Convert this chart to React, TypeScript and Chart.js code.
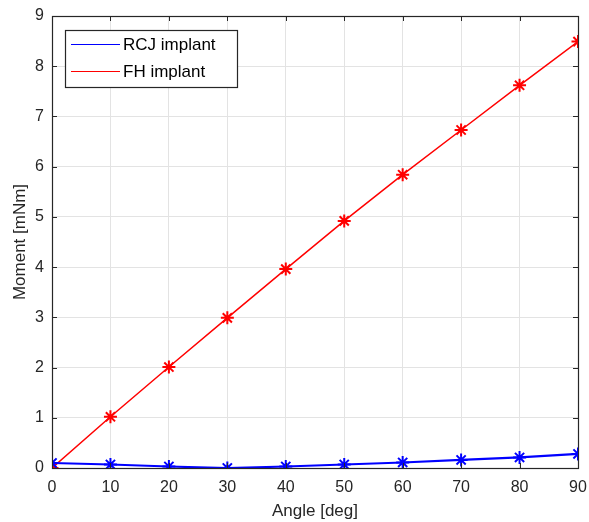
import React, { useEffect, useRef } from "react";
import { Chart, registerables } from "chart.js";

Chart.register(...registerables);

const angles = [0, 10, 20, 30, 40, 50, 60, 70, 80, 90];
const rcjMoment = [0.1, 0.07, 0.03, 0.0, 0.03, 0.07, 0.11, 0.16, 0.21, 0.28];
const fhMoment = [0.0, 1.02, 2.01, 2.99, 3.96, 4.92, 5.84, 6.73, 7.62, 8.49];
const seriesNames = ["RCJ implant", "FH implant"];
const seriesColors = ["#0000ff", "#ff0000"];
const xTitle = "Angle [deg]";
const yTitle = "Moment [mNm]";

const FONT = "'Liberation Sans', Arial, sans-serif";
const AXIS = "#262626";

const boxPlugin = {
  id: "matlabBox",
  afterDraw(chart: any) {
    const { ctx, chartArea: a, scales } = chart;
    ctx.save();
    ctx.strokeStyle = AXIS;
    ctx.lineWidth = 1;
    const tl = 5;
    ctx.beginPath();
    scales.x.ticks.forEach((t: any) => {
      const px = Math.round(scales.x.getPixelForValue(t.value)) + 0.5;
      ctx.moveTo(px, a.bottom);
      ctx.lineTo(px, a.bottom - tl);
      ctx.moveTo(px, a.top);
      ctx.lineTo(px, a.top + tl);
    });
    scales.y.ticks.forEach((t: any) => {
      const py = Math.round(scales.y.getPixelForValue(t.value)) + 0.5;
      ctx.moveTo(a.left, py);
      ctx.lineTo(a.left + tl, py);
      ctx.moveTo(a.right, py);
      ctx.lineTo(a.right - tl, py);
    });
    ctx.stroke();
    ctx.lineWidth = 1.2;
    ctx.strokeRect(Math.round(a.left) + 0.5, Math.round(a.top) + 0.5, Math.round(a.right - a.left), Math.round(a.bottom - a.top));

    // legend
    const lx = a.left + 13;
    const ly = a.top + 14;
    const lw = 172;
    const lh = 57;
    ctx.fillStyle = "#ffffff";
    ctx.fillRect(lx, ly, lw, lh);
    ctx.lineWidth = 1.2;
    ctx.strokeStyle = AXIS;
    ctx.strokeRect(lx + 0.5, ly + 0.5, lw, lh);
    ctx.font = `17px ${FONT}`;
    ctx.textBaseline = "middle";
    ctx.textAlign = "left";
    seriesNames.forEach((name, i) => {
      const y = ly + 14 + i * 27;
      ctx.strokeStyle = seriesColors[i];
      ctx.lineWidth = 1.2;
      ctx.beginPath();
      ctx.moveTo(lx + 6, y + 0.5);
      ctx.lineTo(lx + 55, y + 0.5);
      ctx.stroke();
      ctx.fillStyle = "#000000";
      ctx.fillText(name, lx + 58, y + 1);
    });
    ctx.restore();
  },
};

export default function App() {
  const ref = useRef<HTMLCanvasElement>(null);
  useEffect(() => {
    if (!ref.current) return;
    const chart = new Chart(ref.current, {
      type: "line",
      data: {
        datasets: [
          {
            label: seriesNames[0],
            data: angles.map((x, i) => ({ x, y: rcjMoment[i] })),
            borderColor: seriesColors[0],
            backgroundColor: seriesColors[0],
            borderWidth: 2.2,
            pointStyle: "star",
            pointRadius: 6.5,
            pointBorderWidth: 2,
            tension: 0,
          },
          {
            label: seriesNames[1],
            data: angles.map((x, i) => ({ x, y: fhMoment[i] })),
            borderColor: seriesColors[1],
            backgroundColor: seriesColors[1],
            borderWidth: 1.5,
            pointStyle: "star",
            pointRadius: 6.5,
            pointBorderWidth: 2,
            tension: 0,
          },
        ],
      },
      options: {
        responsive: false,
        animation: false,
        layout: { padding: { left: 0, top: 16, right: 11, bottom: 0 } },
        plugins: { legend: { display: false }, tooltip: { enabled: false } },
        scales: {
          x: {
            type: "linear",
            min: 0,
            max: 90,
            afterFit: (s: any) => {
              s.height = 54;
              s.paddingLeft = 0;
              s.paddingRight = 0;
            },
            ticks: {
              stepSize: 10,
              color: AXIS,
              font: { family: FONT, size: 16 },
              padding: 10,
              maxRotation: 0,
            },
            grid: { color: "#e3e3e3", drawTicks: false },
            border: { display: false },
            title: {
              display: true,
              text: xTitle,
              color: AXIS,
              font: { family: FONT, size: 17 },
              padding: { top: 0, bottom: 0 },
            },
          },
          y: {
            type: "linear",
            min: 0,
            max: 9,
            afterFit: (s: any) => {
              s.width = 52;
              s.paddingTop = 0;
              s.paddingBottom = 0;
            },
            ticks: {
              stepSize: 1,
              color: AXIS,
              font: { family: FONT, size: 16 },
              padding: 8,
            },
            grid: { color: "#e3e3e3", drawTicks: false },
            border: { display: false },
            title: {
              display: true,
              text: yTitle,
              color: AXIS,
              font: { family: FONT, size: 17 },
              padding: { top: 10, bottom: 0 },
            },
          },
        },
      },
      plugins: [boxPlugin],
    });
    return () => chart.destroy();
  }, []);
  return (
    <div style={{ position: "absolute", left: 0, top: 0, width: 589, height: 522, background: "#fff" }}>
      <canvas ref={ref} width={589} height={522} />
    </div>
  );
}
